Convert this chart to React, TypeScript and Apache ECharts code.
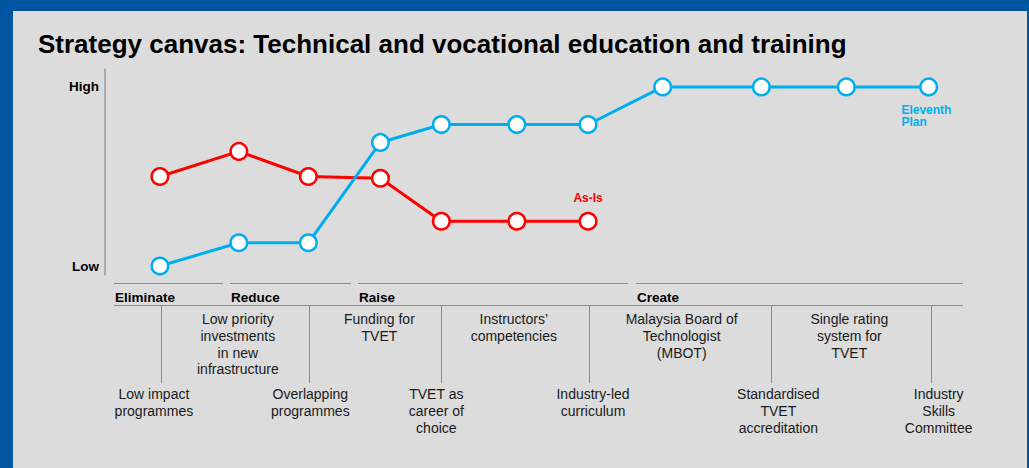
import React, { useEffect, useRef } from 'react';
import * as echarts from 'echarts';

const FONT = "'Liberation Sans', Arial, Helvetica, sans-serif";

const TITLE = 'Strategy canvas: Technical and vocational education and training';
const FACTORS = [
  'Low impact\nprogrammes',
  'Low priority\ninvestments\nin new\ninfrastructure',
  'Overlapping\nprogrammes',
  'Funding for\nTVET',
  'TVET as\ncareer of\nchoice',
  'Instructors’\ncompetencies',
  'Industry-led\ncurriculum',
  'Malaysia Board of\nTechnologist\n(MBOT)',
  'Standardised\nTVET\naccreditation',
  'Single rating\nsystem for\nTVET',
  'Industry\nSkills\nCommittee',
];
// position of each factor along the canvas (0-100)
const STAGE = [6.4, 15.6, 23.7, 32.1, 39.2, 48.0, 56.3, 65.0, 76.5, 86.4, 96.0];
const AS_IS = [5.0, 6.4, 5.0, 4.9, 2.5, 2.5, 2.5];
const ELEVENTH_PLAN = [0, 1.3, 1.3, 6.9, 7.9, 7.9, 7.9, 10, 10, 10, 10];
const GROUPS = ['Eliminate', 'Reduce', 'Raise', 'Create'];
const Y_TICK_VALUES = [0, 10];
const Y_TICK_LABELS = ['Low', 'High'];
const SERIES_NAMES = ['As-Is', 'Eleventh\nPlan'];

// layout (pixels)
const GROUP_EDGES = [[114, 223], [230, 351], [358, 628], [636, 963]];
const LABEL_NUDGE = [-6, -1, 2, -1, -5, -3, 5, 19, 17, 3, 10];
const LINE_NUDGE = [1, 0, 1, 0, 0, 0, 1, 0, 10, 0, 2];

const RED = '#ff0000';
const BLUE = '#00aeef';
const GREY = '#8c8c8c';

export default function App() {
  const ref = useRef<HTMLDivElement>(null);
  useEffect(() => {
    if (!ref.current) return;
    const chart = echarts.init(ref.current, undefined, { renderer: 'svg' });
    const sym = { symbol: 'circle', symbolSize: 16.5 };
    chart.setOption({
      animation: false,
      backgroundColor: '#0055a0',
      title: {
        text: TITLE,
        left: 38,
        top: 31,
        padding: 0,
        textStyle: { fontSize: 26, fontWeight: 'bold', color: '#000', fontFamily: FONT },
      },
      grid: { left: 105, right: 66, top: 69, bottom: 193, containLabel: false },
      xAxis: { type: 'value', min: 0, max: 100, show: false },
      yAxis: {
        type: 'value',
        min: -0.5,
        max: 11,
        splitLine: { show: false },
        axisTick: { show: false },
        axisLine: { show: true, lineStyle: { color: '#999', width: 1.5 } },
        axisLabel: {
          customValues: Y_TICK_VALUES,
          formatter: (v: number) => Y_TICK_LABELS[Y_TICK_VALUES.indexOf(v)] ?? '',
          margin: 6,
          fontSize: 13.5,
          fontWeight: 'bold',
          color: '#000',
          fontFamily: FONT,
        },
      },
      series: [
        {
          type: 'line',
          name: SERIES_NAMES[0],
          ...sym,
          data: AS_IS.map((v, i) => {
            const item: any = { value: [STAGE[i], v] };
            if (i === AS_IS.length - 1) {
              item.label = {
                show: true,
                position: 'top',
                distance: 8,
                formatter: SERIES_NAMES[0],
                color: RED,
                fontWeight: 'bold',
                fontSize: 12,
                fontFamily: FONT,
              };
            }
            return item;
          }),
          lineStyle: { color: RED, width: 3 },
          itemStyle: { color: '#fff', borderColor: RED, borderWidth: 2.5 },
          z: 3,
        },
        {
          type: 'line',
          name: SERIES_NAMES[1],
          ...sym,
          data: ELEVENTH_PLAN.map((v, i) => {
            const item: any = { value: [STAGE[i], v] };
            if (i === ELEVENTH_PLAN.length - 1) {
              item.label = {
                show: true,
                position: [-17.75, 27],
                formatter: SERIES_NAMES[1],
                color: BLUE,
                fontWeight: 'bold',
                fontSize: 12,
                lineHeight: 12,
                align: 'left',
                verticalAlign: 'top',
                fontFamily: FONT,
              };
            }
            return item;
          }),
          lineStyle: { color: BLUE, width: 3 },
          itemStyle: { color: '#fff', borderColor: BLUE, borderWidth: 2.5 },
          z: 4,
        },
      ],
    });

    const graphic: any[] = [
      {
        type: 'rect',
        z: -100,
        silent: true,
        shape: { x: 13, y: 11, width: 1014, height: 457 },
        style: { fill: '#dcdcdc' },
      },
    ];
    GROUPS.forEach((g, gi) => {
      const [a, b] = GROUP_EDGES[gi];
      graphic.push({
        type: 'line',
        shape: { x1: a, y1: 283.5, x2: b, y2: 283.5 },
        style: { stroke: GREY, lineWidth: 1 },
      });
      graphic.push({
        type: 'text',
        style: {
          text: g,
          x: a + 1,
          y: 297.5,
          align: 'left',
          verticalAlign: 'middle',
          font: `bold 13.5px ${FONT}`,
          fill: '#000',
        },
      });
    });
    graphic.push({
      type: 'line',
      shape: { x1: 114, y1: 305.5, x2: 963, y2: 305.5 },
      style: { stroke: GREY, lineWidth: 1 },
    });
    FACTORS.forEach((f, i) => {
      const px = chart.convertToPixel({ xAxisIndex: 0 }, STAGE[i]) as number;
      const lower = i % 2 === 0;
      if (lower) {
        const lx = Math.round(px + LINE_NUDGE[i]) + 0.5;
        graphic.push({
          type: 'line',
          shape: { x1: lx, y1: 305.5, x2: lx, y2: 383 },
          style: { stroke: GREY, lineWidth: 1 },
        });
      }
      graphic.push({
        type: 'text',
        style: {
          text: f,
          x: px + LABEL_NUDGE[i],
          y: lower ? 386 : 311,
          align: 'center',
          verticalAlign: 'top',
          lineHeight: 16.7,
          font: `14px ${FONT}`,
          fill: '#1a1a1a',
        },
      });
    });
    chart.setOption({ graphic });

    return () => chart.dispose();
  }, []);
  return (
    <div
      ref={ref}
      style={{ position: 'absolute', left: 0, top: 0, width: 1029, height: 468 }}
    />
  );
}
